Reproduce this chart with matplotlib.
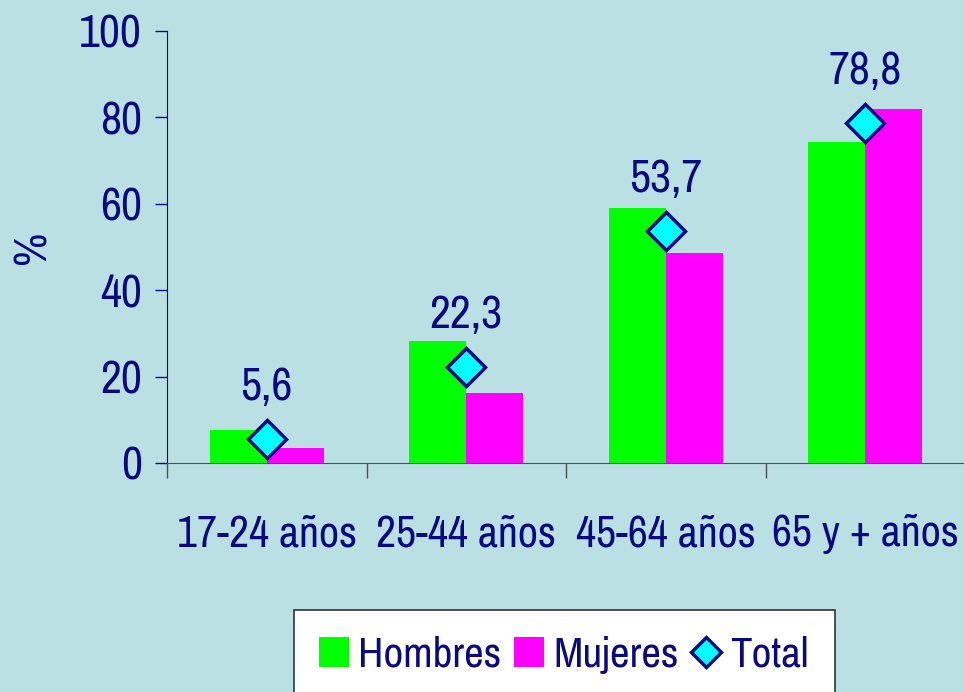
import matplotlib.pyplot as plt
from matplotlib import font_manager
from matplotlib.lines import Line2D
from matplotlib.patches import Patch
import numpy as np

categories = ["17-24 años", "25-44 años", "45-64 años", "65 y + años"]
hombres = [7.6, 28.2, 59.0, 74.3]
mujeres = [3.5, 16.2, 48.6, 81.9]
total = [5.6, 22.3, 53.7, 78.8]
total_labels = ["5,6", "22,3", "53,7", "78,8"]

names = {f.name for f in font_manager.fontManager.ttflist}
font = "Archivo Narrow" if "Archivo Narrow" in names else "DejaVu Sans"
plt.rcParams["font.family"] = [font, "DejaVu Sans"]

navy = "#0A0A80"
bg = "#BAE0E3"
fs = 33

fig = plt.figure(figsize=(9.64, 6.92), dpi=100, facecolor=bg)
ax = fig.add_axes([167 / 964, 229 / 692, 798 / 964, 432 / 692])
ax.set_facecolor(bg)

x = np.arange(len(categories))
w = 0.285
ax.bar(x - w / 2, hombres, w, color="#00FF00")
ax.bar(x + w / 2, mujeres, w, color="#FF00FF")
ax.plot(x, total, linestyle="none", marker="D", markersize=19, markerfacecolor="#00FFFF",
        markeredgecolor=navy, markeredgewidth=2.5, zorder=3)
for xi, yi, lab in zip(x, total, total_labels):
    ax.annotate(lab, (xi, yi), xytext=(0, 22), textcoords="offset points",
                ha="center", va="bottom", fontsize=fs, color=navy)

ax.set_xlim(-0.5, 3.5)
ax.set_ylim(0, 100)
ax.set_yticks([0, 20, 40, 60, 80, 100])
ax.set_xticks(x)
ax.set_xticklabels(categories)
ax.set_xticks([-0.5, 0.5, 1.5, 2.5, 3.5], minor=True)
ax.tick_params(axis="x", which="major", length=0, pad=37, labelsize=fs - 1.5, labelcolor=navy)
ax.tick_params(axis="x", which="minor", length=11, width=1, color="#505050", direction="out")
ax.tick_params(axis="y", length=9, width=1, color=navy, labelsize=fs, labelcolor=navy, pad=9)
ax.set_ylabel("%", fontsize=fs, color=navy)
ax.yaxis.set_label_coords(-0.142, 0.5)

for s in ["top", "right"]:
    ax.spines[s].set_visible(False)
ax.spines["left"].set_color(navy)
ax.spines["bottom"].set_color("#505050")

handles = [
    Patch(facecolor="#00FF00", label="Hombres"),
    Patch(facecolor="#FF00FF", label="Mujeres"),
    Line2D([], [], linestyle="none", marker="D", markersize=15, markerfacecolor="#00FFFF",
           markeredgecolor=navy, markeredgewidth=2.5, label="Total"),
]
leg = fig.legend(handles=handles, loc="upper center", bbox_to_anchor=(564 / 964, 1 - 610 / 692),
                 borderaxespad=0, ncol=3, fontsize=fs - 2, frameon=True, fancybox=False,
                 edgecolor="#333333", framealpha=1, handlelength=0.7, handleheight=0.7,
                 handletextpad=0.2, columnspacing=0.3, borderpad=0.6, labelcolor=navy)
leg.get_frame().set_facecolor("white")
leg.get_frame().set_linewidth(1.2)

fig.savefig("out.png", dpi=100, facecolor=bg)
